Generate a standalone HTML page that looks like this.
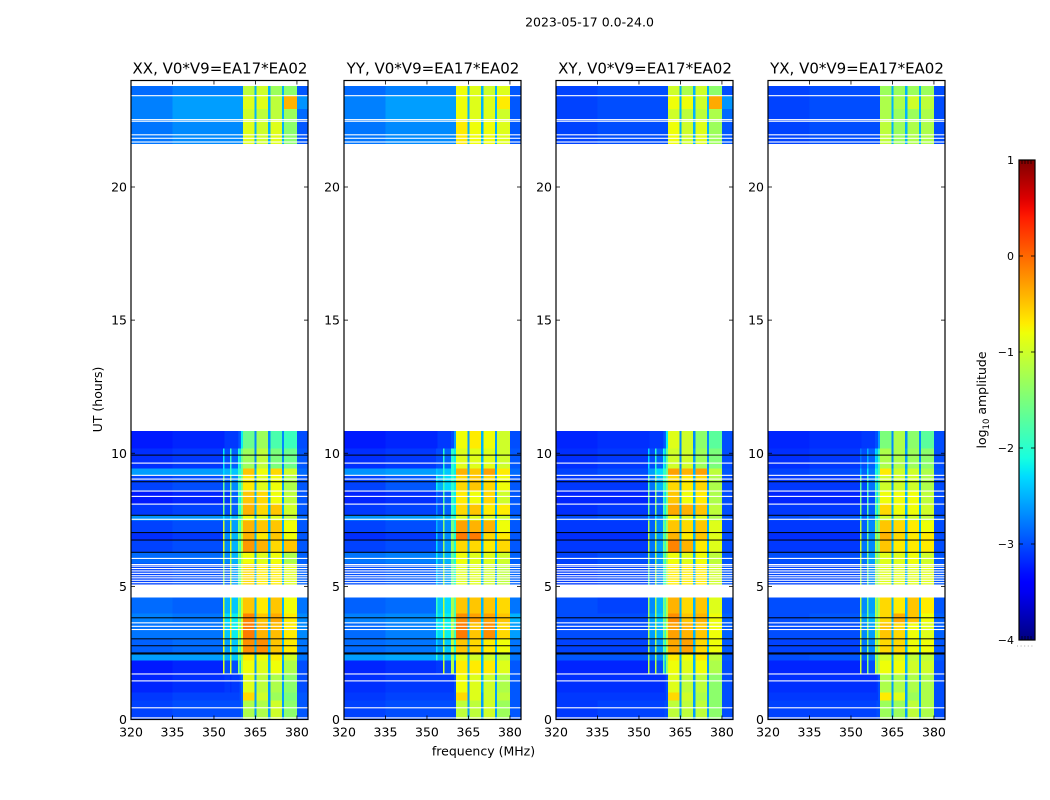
<!DOCTYPE html>
<html lang="en">
<head>
<meta charset="utf-8">
<title>2023-05-17 0.0-24.0</title>
<style>
html,body{margin:0;padding:0;background:#fff;width:1050px;height:800px;overflow:hidden}
svg{display:block}
text{font-family:"DejaVu Sans","Liberation Sans",sans-serif;fill:#000}
</style>
</head>
<body>
<svg id="chart" xmlns="http://www.w3.org/2000/svg" width="1050" height="800" viewBox="0 0 1050 800">
<text x="589.5" y="26.5" font-size="12.5" text-anchor="middle">2023-05-17 0.0-24.0</text>
<text x="0" y="0" font-size="12.5" text-anchor="middle" transform="translate(102,399.5) rotate(-90)">UT (hours)</text>
<text x="483.5" y="755.5" font-size="12.5" text-anchor="middle">frequency (MHz)</text>
<text font-size="12.5" text-anchor="middle" transform="translate(986,400) rotate(-90)">log<tspan font-size="8.5" dy="3">10</tspan><tspan dy="-3"> amplitude</tspan></text>
<g id="panels"></g>
<g id="colorbar"></g>
</svg>
<script>
const panelTitles = ["XX, V0*V9=EA17*EA02","YY, V0*V9=EA17*EA02","XY, V0*V9=EA17*EA02","YX, V0*V9=EA17*EA02"];
const freqTicks = [320,335,350,365,380];
const hourTicks = [0,5,10,15,20];
const colorTicks = [-4,-3,-2,-1,0,1];
// frequency channel boundaries (MHz)
const freqEdges = [320,335,353.2,353.8,355.8,356.4,358.6,359.2,359.8,360.5,364.6,365.4,369.6,370.4,374.6,375.4,380,384];
// time blocks (UT hours)
const blockStart = [0,0.71,1.01,1.73,2.21,2.48,3.04,3.64,3.98,5.07,5.85,6.30,6.72,7.02,7.47,7.69,8.11,8.59,9.16,9.42,10.17,21.61,22.51,22.93,23.41];
const blockEnd   = [0.71,1.01,1.73,2.21,2.48,3.04,3.64,3.98,4.58,5.85,6.30,6.72,7.02,7.47,7.69,8.11,8.59,9.16,9.42,10.17,10.84,22.51,22.93,23.41,23.79];
// flagged (white) integrations, UT hours
const flaggedHours = [0.06,0.44,1.45,1.71,3.38,3.50,3.63,5.14,5.23,5.32,5.40,5.49,5.58,5.67,5.76,5.82,6.05,7.52,8.09,8.38,8.58,9.03,9.17,9.63,21.69,21.83,21.96,22.47,22.53,23.43];
// zero-amplitude (black) integrations, UT hours
const zeroHours = [2.46,2.50,2.77,3.03,3.82,6.28,6.74,7.02,7.67,8.93,9.93];
// log10 amplitude, one row per time block, one value per frequency channel
const levelsXX = [
[-3.05,-3.0,-3.0,-3.0,-3.0,-3.0,-3.0,-3.0,-2.9,-1.2,-2.6,-1.2,-2.6,-1.0,-2.6,-1.4,-2.95],
[-3.1,-3.05,-3.05,-3.05,-3.05,-3.05,-3.05,-3.0,-2.9,-0.6,-2.6,-1.0,-2.6,-1.3,-2.6,-1.5,-2.95],
[-3.2,-3.15,-3.15,-3.1,-3.15,-3.1,-3.1,-3.0,-2.9,-0.9,-2.6,-1.1,-2.6,-1.2,-2.6,-1.4,-3.0],
[-3.25,-3.2,-0.9,-3.0,-0.9,-3.0,-1.3,-2.4,-1.2,-0.8,-2.6,-0.9,-2.5,-0.8,-2.6,-1.2,-3.0],
[-2.6,-2.6,-1.2,-2.5,-1.2,-2.4,-1.4,-2.0,-1.4,-0.7,-2.5,-0.8,-2.5,-0.7,-2.5,-1.0,-2.8],
[-2.9,-2.85,-0.8,-2.6,-0.9,-2.4,-1.2,-1.9,-1.0,-0.2,-2.5,-0.2,-2.5,-0.5,-2.5,-0.7,-2.8],
[-2.8,-2.8,-0.8,-2.4,-0.7,-2.2,-1.1,-1.8,-0.9,-0.1,-2.5,-0.4,-2.5,-0.45,-2.5,-0.7,-2.7],
[-2.75,-2.8,-0.9,-2.3,-0.8,-2.2,-1.2,-1.8,-1.0,-0.15,-2.5,-0.5,-2.5,-0.35,-2.5,-0.7,-2.7],
[-2.85,-2.9,-1.0,-2.5,-0.9,-2.4,-1.3,-1.8,-1.0,-0.5,-2.5,-0.7,-2.5,-0.5,-2.5,-0.8,-2.8],
[-3.05,-3.0,-1.3,-2.9,-1.0,-2.6,-1.6,-1.8,-1.0,-0.6,-2.5,-0.7,-2.5,-0.7,-2.5,-0.9,-2.9],
[-2.85,-2.85,-1.1,-2.7,-1.1,-2.5,-1.4,-1.9,-1.1,-0.8,-2.5,-0.9,-2.5,-0.8,-2.5,-1.2,-2.9],
[-3.05,-3.0,-0.9,-2.7,-0.9,-2.5,-1.4,-1.9,-1.1,-0.25,-2.5,-0.4,-2.5,-0.6,-2.5,-0.5,-2.95],
[-3.15,-3.1,-0.9,-2.7,-1.0,-2.5,-1.4,-1.9,-1.1,-0.4,-2.5,-0.7,-2.5,-0.5,-2.5,-0.8,-2.95],
[-3.05,-3.0,-1.0,-2.8,-1.0,-2.6,-1.4,-1.9,-1.1,-0.4,-2.5,-0.5,-2.5,-0.5,-2.5,-0.8,-2.95],
[-2.65,-2.65,-2.2,-2.6,-2.1,-2.5,-1.8,-2.1,-1.5,-0.8,-2.5,-0.9,-2.5,-0.9,-2.5,-1.1,-2.85],
[-3.1,-3.05,-1.5,-3.0,-1.2,-2.9,-1.6,-2.1,-1.4,-0.4,-2.5,-0.6,-2.5,-0.5,-2.5,-1.0,-2.95],
[-3.25,-3.2,-1.5,-3.1,-1.3,-2.9,-1.7,-2.2,-1.5,-0.5,-2.5,-0.6,-2.5,-0.8,-2.6,-1.1,-2.95],
[-3.05,-3.0,-1.6,-2.9,-1.4,-2.7,-1.7,-2.1,-1.5,-0.7,-2.6,-0.9,-2.5,-0.8,-2.6,-1.2,-2.95],
[-2.6,-2.6,-2.3,-2.5,-1.9,-2.4,-1.9,-2.0,-1.7,-0.5,-2.5,-0.8,-2.5,-0.6,-2.6,-1.0,-2.85],
[-3.15,-3.1,-2.2,-3.0,-1.9,-2.9,-2.0,-2.3,-1.6,-1.3,-2.7,-1.1,-2.6,-1.5,-2.7,-1.6,-2.95],
[-3.25,-3.2,-3.2,-3.1,-3.1,-3.1,-3.0,-2.9,-2.2,-1.6,-2.7,-1.3,-2.7,-1.8,-2.7,-1.9,-3.0],
[-2.8,-2.7,-2.7,-2.7,-2.7,-2.7,-2.7,-2.7,-2.7,-0.9,-2.5,-1.0,-2.5,-0.9,-2.5,-1.4,-2.95],
[-2.75,-2.6,-2.6,-2.6,-2.6,-2.6,-2.6,-2.6,-2.6,-1.0,-2.5,-1.1,-2.5,-1.1,-2.5,-1.3,-2.85],
[-2.75,-2.6,-2.6,-2.6,-2.6,-2.6,-2.6,-2.6,-2.6,-0.9,-2.5,-0.9,-2.5,-1.1,-2.5,-0.4,-2.65],
[-2.85,-2.75,-2.75,-2.75,-2.75,-2.75,-2.75,-2.75,-2.75,-1.1,-2.5,-1.0,-2.5,-1.3,-2.5,-1.4,-2.95]
];
const levelsYY = [
[-3.05,-3.0,-3.0,-3.0,-3.0,-3.0,-3.0,-3.0,-3.0,-1.1,-2.6,-1.1,-2.6,-1.0,-2.6,-1.3,-2.95],
[-3.1,-3.05,-3.05,-3.05,-3.05,-3.05,-3.05,-3.05,-3.0,-0.6,-2.6,-0.9,-2.6,-1.0,-2.6,-1.1,-2.95],
[-3.15,-3.1,-3.1,-3.1,-3.1,-3.1,-3.1,-3.1,-3.0,-0.8,-2.6,-0.9,-2.5,-1.0,-2.6,-1.2,-2.95],
[-3.2,-3.15,-3.1,-3.1,-1.0,-3.0,-1.1,-1.2,-2.8,-0.7,-2.5,-0.7,-2.5,-0.7,-2.6,-0.9,-2.95],
[-2.6,-2.55,-2.0,-2.5,-1.3,-2.4,-1.2,-1.3,-2.3,-0.9,-2.5,-1.0,-2.5,-1.0,-2.6,-1.1,-2.8],
[-2.85,-2.8,-2.3,-2.6,-1.1,-2.4,-1.0,-1.2,-2.1,-0.5,-2.5,-0.6,-2.5,-0.7,-2.5,-0.8,-2.8],
[-2.85,-2.75,-2.1,-2.3,-1.0,-2.2,-1.1,-1.3,-1.9,-0.1,-2.5,-0.5,-2.4,-0.2,-2.5,-0.6,-2.6],
[-2.75,-2.7,-2.0,-2.3,-1.0,-2.2,-1.1,-1.3,-1.9,-0.2,-2.5,-0.3,-2.4,-0.3,-2.5,-0.5,-2.5],
[-2.9,-2.85,-1.9,-2.4,-1.1,-2.3,-1.2,-1.3,-1.8,-0.5,-2.5,-0.5,-2.5,-0.5,-2.5,-0.6,-2.8],
[-3.0,-2.95,-2.3,-2.7,-1.2,-2.6,-1.6,-1.6,-2.0,-0.9,-2.5,-0.9,-2.5,-1.0,-2.6,-1.1,-2.9],
[-2.8,-2.75,-2.2,-2.6,-1.4,-2.5,-1.6,-1.7,-2.1,-0.8,-2.5,-0.9,-2.5,-0.9,-2.5,-1.0,-2.9],
[-3.05,-3.0,-2.3,-2.8,-1.3,-2.6,-1.3,-1.5,-2.1,-0.6,-2.5,-0.6,-2.5,-0.7,-2.5,-0.6,-2.95],
[-3.15,-3.1,-2.4,-2.9,-1.4,-2.7,-1.4,-1.6,-2.1,-0.1,-2.5,-0.1,-2.5,-0.6,-2.5,-0.7,-2.95],
[-3.05,-3.0,-2.5,-2.8,-1.4,-2.7,-1.5,-1.6,-2.1,-0.3,-2.5,-0.4,-2.5,-0.4,-2.5,-0.8,-2.95],
[-2.65,-2.6,-2.5,-2.5,-1.6,-2.5,-1.8,-1.9,-2.1,-0.9,-2.5,-0.9,-2.5,-0.9,-2.5,-1.0,-2.85],
[-3.1,-3.05,-2.7,-3.0,-1.7,-2.9,-1.9,-2.0,-2.2,-0.6,-2.5,-0.5,-2.5,-0.7,-2.5,-0.7,-2.95],
[-3.2,-3.15,-2.8,-3.0,-1.7,-2.9,-1.9,-2.0,-2.2,-0.7,-2.5,-0.8,-2.5,-0.6,-2.6,-1.0,-2.95],
[-3.05,-2.95,-2.2,-2.5,-1.8,-2.3,-2.0,-2.0,-2.2,-0.6,-2.5,-0.5,-2.5,-0.6,-2.6,-0.8,-2.95],
[-2.65,-2.6,-2.4,-2.5,-2.0,-2.4,-2.0,-2.0,-2.2,-0.4,-2.5,-0.5,-2.5,-0.3,-2.5,-0.7,-2.85],
[-3.15,-3.1,-3.0,-3.0,-2.0,-2.9,-2.0,-2.0,-2.2,-0.9,-2.6,-0.9,-2.5,-0.9,-2.6,-1.0,-2.95],
[-3.25,-3.2,-3.2,-3.1,-3.1,-3.1,-3.0,-3.0,-2.6,-0.8,-2.6,-0.7,-2.5,-0.8,-2.6,-1.0,-3.0],
[-2.8,-2.7,-2.7,-2.7,-2.7,-2.7,-2.7,-2.7,-2.7,-0.7,-2.5,-0.8,-2.5,-0.8,-2.5,-0.9,-2.95],
[-2.75,-2.6,-2.6,-2.6,-2.6,-2.6,-2.6,-2.6,-2.6,-0.8,-2.5,-0.9,-2.5,-0.9,-2.5,-1.0,-2.95],
[-2.75,-2.6,-2.6,-2.6,-2.6,-2.6,-2.6,-2.6,-2.6,-0.8,-2.5,-0.9,-2.5,-0.9,-2.5,-0.7,-2.95],
[-2.85,-2.75,-2.75,-2.75,-2.75,-2.75,-2.75,-2.75,-2.75,-0.8,-2.5,-0.9,-2.5,-1.0,-2.5,-0.9,-2.95]
];
const levelsXY = [
[-3.1,-3.05,-3.05,-3.05,-3.05,-3.05,-3.05,-3.0,-3.0,-1.1,-2.6,-1.1,-2.6,-1.1,-2.6,-1.4,-3.0],
[-3.1,-3.1,-3.1,-3.1,-3.1,-3.1,-3.1,-3.1,-3.0,-0.6,-2.6,-1.0,-2.6,-1.2,-2.6,-1.4,-3.0],
[-3.15,-3.15,-3.15,-3.15,-3.15,-3.15,-3.15,-3.1,-3.0,-0.9,-2.6,-1.1,-2.6,-1.1,-2.6,-1.4,-3.0],
[-3.2,-3.2,-1.1,-3.1,-1.1,-3.0,-1.6,-2.5,-1.4,-0.8,-2.6,-0.9,-2.5,-0.8,-2.6,-1.2,-3.0],
[-2.95,-2.95,-1.3,-2.8,-1.3,-2.7,-1.6,-2.3,-1.5,-0.7,-2.5,-0.8,-2.5,-0.7,-2.6,-1.1,-2.95],
[-3.05,-3.05,-1.2,-2.8,-1.2,-2.6,-1.5,-2.1,-1.2,-0.35,-2.5,-0.3,-2.5,-0.6,-2.5,-0.8,-2.95],
[-3.0,-3.0,-1.2,-2.6,-1.1,-2.5,-1.4,-2.0,-1.1,-0.3,-2.5,-0.4,-2.5,-0.5,-2.5,-0.8,-2.9],
[-3.0,-3.0,-1.2,-2.6,-1.2,-2.4,-1.4,-1.9,-1.2,-0.2,-2.5,-0.5,-2.5,-0.4,-2.5,-0.8,-2.9],
[-3.0,-3.05,-1.3,-2.7,-1.2,-2.5,-1.5,-1.9,-1.2,-0.4,-2.5,-0.6,-2.5,-0.5,-2.5,-0.9,-2.95],
[-3.1,-3.05,-1.6,-2.9,-1.2,-2.7,-1.8,-2.0,-1.2,-0.7,-2.5,-0.7,-2.5,-0.7,-2.5,-1.0,-2.95],
[-3.05,-3.0,-1.3,-2.8,-1.2,-2.6,-1.5,-2.0,-1.3,-0.8,-2.5,-0.9,-2.5,-0.8,-2.5,-1.1,-2.95],
[-3.1,-3.1,-1.1,-2.8,-1.1,-2.6,-1.5,-2.0,-1.3,-0.15,-2.5,-0.4,-2.5,-0.7,-2.5,-0.9,-3.0],
[-3.15,-3.15,-1.1,-2.8,-1.2,-2.6,-1.5,-2.0,-1.3,-0.4,-2.5,-0.7,-2.5,-0.5,-2.5,-0.9,-3.0],
[-3.1,-3.1,-1.2,-2.9,-1.2,-2.7,-1.5,-2.0,-1.3,-0.5,-2.5,-0.6,-2.5,-0.5,-2.5,-0.9,-3.0],
[-3.0,-2.95,-2.4,-2.9,-2.2,-2.7,-1.9,-2.2,-1.6,-0.8,-2.5,-0.9,-2.5,-0.9,-2.5,-1.2,-2.95],
[-3.15,-3.1,-1.6,-3.0,-1.4,-2.9,-1.7,-2.2,-1.5,-0.35,-2.5,-0.4,-2.5,-0.5,-2.5,-1.1,-3.0],
[-3.2,-3.2,-1.6,-3.1,-1.4,-2.9,-1.8,-2.3,-1.6,-0.5,-2.5,-0.8,-2.5,-0.7,-2.6,-1.2,-3.0],
[-3.1,-3.1,-1.8,-2.8,-1.5,-2.5,-1.8,-2.1,-1.5,-0.6,-2.6,-0.7,-2.5,-0.6,-2.6,-1.2,-3.0],
[-3.05,-3.0,-2.5,-2.6,-1.9,-2.3,-1.9,-2.0,-1.6,-0.3,-2.5,-0.4,-2.5,-0.3,-2.6,-1.1,-2.95],
[-3.15,-3.1,-2.3,-3.0,-2.0,-2.9,-2.1,-2.4,-1.7,-1.0,-2.7,-1.0,-2.6,-1.3,-2.7,-1.5,-3.0],
[-3.2,-3.15,-3.15,-3.1,-3.1,-3.1,-3.0,-2.9,-2.2,-0.9,-2.7,-1.0,-2.7,-1.4,-2.7,-1.7,-3.0],
[-3.05,-3.0,-3.0,-3.0,-3.0,-3.0,-3.0,-3.0,-3.0,-0.8,-2.5,-1.0,-2.5,-0.9,-2.5,-1.3,-2.95],
[-3.05,-3.0,-3.0,-3.0,-3.0,-3.0,-3.0,-3.0,-3.0,-1.0,-2.5,-1.1,-2.5,-1.1,-2.5,-1.2,-2.85],
[-3.05,-3.0,-3.0,-3.0,-3.0,-3.0,-3.0,-3.0,-3.0,-0.8,-2.5,-0.8,-2.5,-1.0,-2.5,-0.35,-2.65],
[-3.05,-3.0,-3.0,-3.0,-3.0,-3.0,-3.0,-3.0,-3.0,-1.0,-2.5,-1.2,-2.5,-1.0,-2.5,-1.4,-3.0]
];
const levelsYX = [
[-3.05,-3.05,-3.05,-3.05,-3.05,-3.05,-3.05,-3.0,-3.0,-1.3,-2.6,-1.3,-2.6,-1.1,-2.6,-1.2,-3.0],
[-3.1,-3.1,-3.1,-3.1,-3.1,-3.1,-3.1,-3.1,-3.0,-0.7,-2.6,-0.9,-2.6,-1.3,-2.6,-1.2,-3.0],
[-3.15,-3.15,-3.15,-3.15,-3.15,-3.15,-3.15,-3.1,-3.0,-1.2,-2.6,-1.2,-2.6,-1.2,-2.6,-1.2,-3.0],
[-3.2,-3.2,-1.0,-3.1,-1.4,-3.0,-1.0,-1.6,-1.1,-0.8,-2.6,-0.8,-2.5,-1.0,-2.6,-1.0,-3.0],
[-3.0,-2.95,-1.1,-2.9,-1.5,-2.8,-1.2,-1.7,-1.2,-1.0,-2.5,-0.9,-2.5,-1.1,-2.6,-1.1,-2.95],
[-3.05,-3.05,-1.0,-2.8,-1.4,-2.7,-1.0,-1.6,-1.0,-0.6,-2.5,-0.6,-2.5,-0.8,-2.5,-0.8,-2.95],
[-3.0,-3.0,-1.0,-2.7,-1.4,-2.6,-1.0,-1.5,-1.0,-0.5,-2.5,-0.6,-2.5,-0.8,-2.5,-0.9,-2.9],
[-3.0,-2.95,-1.0,-2.6,-1.5,-2.5,-1.1,-1.5,-1.0,-0.6,-2.5,-0.35,-2.5,-0.5,-2.5,-0.8,-2.9],
[-3.0,-3.0,-1.1,-2.7,-1.6,-2.6,-1.1,-1.6,-1.1,-0.6,-2.5,-0.7,-2.5,-0.5,-2.5,-0.7,-2.95],
[-3.05,-3.05,-1.2,-2.9,-1.5,-2.7,-1.2,-1.5,-1.1,-0.9,-2.5,-0.9,-2.5,-0.9,-2.5,-0.9,-2.95],
[-3.0,-3.0,-1.1,-2.8,-1.5,-2.6,-1.2,-1.7,-1.3,-0.9,-2.5,-0.9,-2.5,-0.8,-2.5,-1.0,-2.95],
[-3.1,-3.1,-1.0,-2.8,-1.5,-2.7,-1.1,-1.7,-1.3,-0.5,-2.5,-0.7,-2.5,-0.7,-2.5,-0.7,-3.0],
[-3.15,-3.15,-1.1,-2.9,-1.6,-2.7,-1.1,-1.7,-1.3,-0.4,-2.5,-0.6,-2.5,-0.7,-2.5,-0.7,-3.0],
[-3.1,-3.1,-1.1,-2.9,-1.6,-2.7,-1.2,-1.8,-1.3,-0.5,-2.5,-0.6,-2.5,-0.7,-2.5,-0.8,-3.0],
[-3.0,-2.95,-2.2,-2.9,-2.2,-2.8,-1.9,-2.2,-1.6,-1.0,-2.5,-1.0,-2.5,-1.0,-2.5,-1.1,-2.95],
[-3.1,-3.1,-1.4,-3.0,-1.7,-2.9,-1.6,-2.2,-1.5,-0.6,-2.5,-0.8,-2.5,-0.8,-2.5,-1.0,-3.0],
[-3.2,-3.2,-1.5,-3.1,-1.8,-3.0,-1.7,-2.3,-1.6,-0.8,-2.5,-0.8,-2.5,-0.8,-2.6,-1.1,-3.0],
[-3.1,-3.1,-1.7,-3.0,-1.9,-2.8,-1.8,-2.3,-1.7,-1.0,-2.6,-1.0,-2.5,-1.0,-2.6,-1.2,-3.0],
[-3.05,-3.0,-2.5,-2.9,-2.2,-2.8,-2.0,-2.2,-1.8,-0.7,-2.5,-1.0,-2.5,-1.0,-2.6,-1.2,-2.95],
[-3.15,-3.1,-2.8,-3.0,-2.5,-2.9,-2.3,-2.4,-1.9,-1.2,-2.7,-1.2,-2.6,-1.3,-2.7,-1.4,-3.0],
[-3.2,-3.15,-3.15,-3.1,-3.1,-3.1,-3.0,-3.0,-2.6,-1.5,-2.7,-1.2,-2.7,-1.4,-2.7,-1.7,-3.0],
[-3.05,-3.0,-3.0,-3.0,-3.0,-3.0,-3.0,-3.0,-3.0,-1.1,-2.5,-1.3,-2.5,-1.2,-2.5,-1.2,-3.0],
[-3.05,-3.0,-3.0,-3.0,-3.0,-3.0,-3.0,-3.0,-3.0,-1.2,-2.5,-1.3,-2.5,-1.3,-2.5,-1.2,-3.0],
[-3.05,-3.0,-3.0,-3.0,-3.0,-3.0,-3.0,-3.0,-3.0,-1.2,-2.5,-1.2,-2.5,-1.0,-2.5,-1.1,-3.0],
[-3.05,-3.0,-3.0,-3.0,-3.0,-3.0,-3.0,-3.0,-3.0,-1.3,-2.5,-1.3,-2.5,-1.3,-2.5,-1.3,-3.0]
];
const panelLevels = [levelsXX, levelsYY, levelsXY, levelsYX];

const NS = "http://www.w3.org/2000/svg";
const panelLeft = [131, 344, 556, 768];
const plotWidth = 177, plotTop = 80.5, plotBottom = 719.5;
const freqMin = 320, freqMax = 384, hourMax = 24, colorMin = -4, colorMax = 1;
const cbLeft = 1019, cbRight = 1035, cbTop = 160, cbBottom = 640;

function xScale(panel, mhz) { return panelLeft[panel] + (mhz - freqMin) / (freqMax - freqMin) * plotWidth; }
function yScale(hour) { return plotBottom - hour / hourMax * (plotBottom - plotTop); }
function cbScale(v) { return cbBottom - (v - colorMin) / (colorMax - colorMin) * (cbBottom - cbTop); }
function lerp(t, pts) {
  for (let i = 1; i < pts.length; i++) {
    if (t <= pts[i][0]) {
      const a = pts[i - 1], b = pts[i];
      return a[1] + (t - a[0]) / (b[0] - a[0]) * (b[1] - a[1]);
    }
  }
  return pts[pts.length - 1][1];
}
function jet(v) {
  const t = Math.max(0, Math.min(1, (v - colorMin) / (colorMax - colorMin)));
  const r = lerp(t, [[0,0],[0.35,0],[0.66,1],[0.89,1],[1,0.5]]);
  const g = lerp(t, [[0,0],[0.125,0],[0.375,1],[0.64,1],[0.91,0],[1,0]]);
  const b = lerp(t, [[0,0.5],[0.11,1],[0.34,1],[0.65,0],[1,0]]);
  return "rgb(" + Math.round(r * 255) + "," + Math.round(g * 255) + "," + Math.round(b * 255) + ")";
}
function mk(tag, attrs, parent) {
  const el = document.createElementNS(NS, tag);
  for (const k in attrs) el.setAttribute(k, attrs[k]);
  parent.appendChild(el);
  return el;
}

const panelsRoot = document.getElementById("panels");
panelLevels.forEach(function (levels, p) {
  const g = mk("g", {}, panelsRoot);
  
  

  const cells = mk("g", {"shape-rendering": "crispEdges"}, g);
  
  
  levels.forEach(function (row, r) {
    row.forEach(function (v, c) {
      const x0 = xScale(p, freqEdges[c]), x1 = xScale(p, freqEdges[c + 1]);
      const y0 = yScale(blockEnd[r]), y1 = yScale(blockStart[r]);
      const cell = mk("rect", {x: x0, y: y0, width: x1 - x0, height: y1 - y0, fill: jet(v)}, cells);
      
      
    });
  });

  flaggedHours.forEach(function (h) {
    const line = mk("rect", {x: xScale(p, freqMin), y: yScale(h) - 0.55, width: plotWidth, height: 1.1, fill: "#fff"}, g);
    
    
  });
  zeroHours.forEach(function (h) {
    const line = mk("rect", {x: xScale(p, freqMin), y: yScale(h) - 0.5, width: plotWidth, height: 1, fill: "#000"}, g);
    
    
  });

  const frame = mk("rect", {x: panelLeft[p], y: plotTop, width: plotWidth, height: plotBottom - plotTop, fill: "none", stroke: "#000", "stroke-width": 1.2}, g);
  
  

  freqTicks.forEach(function (f) {
    const x = xScale(p, f);
    const t1 = mk("line", {x1: x, x2: x, y1: plotBottom, y2: plotBottom - 4, stroke: "#000", "stroke-width": 0.8}, g);
    
    
    const t2 = mk("line", {x1: x, x2: x, y1: plotTop, y2: plotTop + 4, stroke: "#000", "stroke-width": 0.8}, g);
    
    
    const lab = mk("text", {x: x, y: 736.5, "font-size": 12.5, "text-anchor": "middle"}, g);
    lab.textContent = String(f);
    
    
  });
  hourTicks.forEach(function (h) {
    const y = yScale(h);
    const xl = panelLeft[p], xr = panelLeft[p] + plotWidth;
    const t1 = mk("line", {x1: xl, x2: xl + 4, y1: y, y2: y, stroke: "#000", "stroke-width": 0.8}, g);
    
    
    const t2 = mk("line", {x1: xr, x2: xr - 4, y1: y, y2: y, stroke: "#000", "stroke-width": 0.8}, g);
    
    
    const lab = mk("text", {x: xl - 4, y: y + 4.5, "font-size": 12.5, "text-anchor": "end"}, g);
    lab.textContent = String(h);
    
    
  });

  const title = mk("text", {x: panelLeft[p] + plotWidth / 2 + 0.5, y: 73.5, "font-size": 15, "text-anchor": "middle"}, g);
  title.textContent = panelTitles[p];
  
  
});

// colorbar
const cb = document.getElementById("colorbar");
const defs = mk("defs", {}, cb);
const grad = mk("linearGradient", {id: "jetGrad", x1: 0, x2: 0, y1: 1, y2: 0}, defs);
for (let i = 0; i <= 50; i++) {
  mk("stop", {offset: i / 50, "stop-color": jet(colorMin + i / 50 * (colorMax - colorMin))}, grad);
}
const bar = mk("rect", {x: cbLeft, y: cbTop, width: cbRight - cbLeft, height: cbBottom - cbTop, fill: "url(#jetGrad)", stroke: "#000", "stroke-width": 1.2}, cb);


colorTicks.forEach(function (v) {
  const y = cbScale(v);
  const t1 = mk("line", {x1: cbLeft, x2: cbLeft + 4, y1: y, y2: y, stroke: "#000", "stroke-width": 0.8}, cb);
  
  
  const t2 = mk("line", {x1: cbRight, x2: cbRight - 4, y1: y, y2: y, stroke: "#000", "stroke-width": 0.8}, cb);
  
  
  const lab = mk("text", {x: cbLeft - 5, y: y + 4, "font-size": 11, "text-anchor": "end"}, cb);
  lab.textContent = v < 0 ? "\u2212" + Math.abs(v) : String(v);
  
  
});
[1022, 1025, 1028, 1031].forEach(function (x) {
  const a = mk("line", {x1: x, x2: x, y1: cbTop, y2: cbTop + 4, stroke: "#000", "stroke-width": 0.7}, cb);
  
  
  const b = mk("line", {x1: x, x2: x, y1: cbBottom, y2: cbBottom - 4, stroke: "#000", "stroke-width": 0.7}, cb);
  
  
});
const dots = mk("line", {x1: 1017, x2: 1035, y1: 646, y2: 646, stroke: "#aaa", "stroke-width": 1, "stroke-dasharray": "1 2.6"}, cb);


</script>
</body>
</html>
